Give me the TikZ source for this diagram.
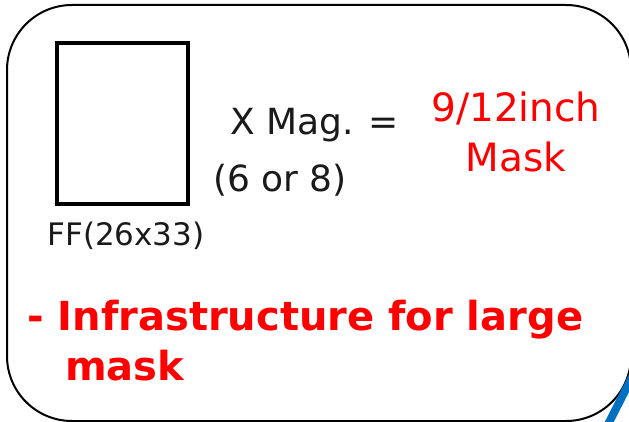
\documentclass[tikz,border=0pt]{standalone}
\usepackage{fontspec}
\setmainfont{DejaVu Sans}
\usepackage{tikz}
\usepackage{xcolor}
\usetikzlibrary{positioning}
\definecolor{MaskRed}{HTML}{FF0000}
\definecolor{SlideBlue}{HTML}{0070C0}
\definecolor{TextBlack}{HTML}{1A1A1A}

\begin{document}
\begin{tikzpicture}[x=1pt, y=-1pt,
    frametext/.style={font=\fontsize{36}{50}\selectfont, TextBlack, inner sep=0pt, anchor=base west},
    masktext/.style={font=\fontsize{39}{50}\selectfont, MaskRed, inner sep=0pt, align=center},
    boldtext/.style={font=\fontsize{40}{50}\selectfont\bfseries, MaskRed, inner sep=0pt, anchor=base west}]
    \useasboundingbox (0,0) rectangle (629,422);
    \clip (0,0) rectangle (629,422);

    % Outer panel
    \draw[line width=2pt, rounded corners=65pt] (7,5) rectangle (631,421);
    \draw[line width=8pt, SlideBlue] (600,440) -- (645,352);

    % Full field
    \node[draw, line width=4pt, minimum width=131pt, minimum height=161pt, inner sep=0pt] (field) at (122.5,123.5) {};
    \node[font=\fontsize{31}{34}\selectfont, TextBlack, inner sep=0pt, anchor=base] (fflabel) at (126,245) {FF(26x33)};

    % Magnification
    \node[frametext] (mag) at (230,135) {X Mag. =};
    \node[frametext] (magval) at (213,192) {(6 or 8)};

    % Mask size
    \node[masktext, anchor=base] (mask) at (516,172) {9/12inch\\Mask};

    % Note
    \node[boldtext] (infra) at (27,330) {- Infrastructure for large};
    \node[boldtext] (infra2) at (65,380) {mask};
\end{tikzpicture}
\end{document}
